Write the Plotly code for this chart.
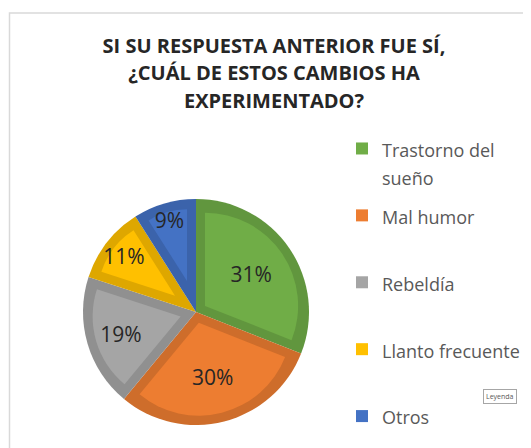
import math
import plotly.graph_objects as go

# ---- data ----
categories = ["Trastorno del sueño", "Mal humor", "Rebeldía", "Llanto frecuente", "Otros"]
legend_labels = ["Trastorno del<br>sueño", "Mal humor<br> ", "Rebeldía<br> ", "Llanto frecuente<br> ", "Otros<br> "]
values = [31, 30, 19, 11, 9]
title_lines = ["SI SU RESPUESTA ANTERIOR FUE SÍ,", "¿CUÁL DE ESTOS CAMBIOS HA", "EXPERIMENTADO?"]

# ---- style ----
light = ["#70AD47", "#ED7D31", "#A5A5A5", "#FFC000", "#4472C4"]
dark = ["#61963E", "#CE6D2B", "#909090", "#DEA700", "#3B63AB"]

W, H = 531, 448
CX, CY, R = 188, 304, 113   # pie centre / radius in px (figure coords)
B = 9                        # bevel band width in px

fig = go.Figure()

# base pie (dark rim colour)
fig.add_trace(go.Pie(
    labels=categories, values=values, sort=False, direction="clockwise", rotation=0,
    marker=dict(colors=dark, line=dict(width=0)),
    textinfo="none", hoverinfo="label+percent", showlegend=False,
    domain=dict(x=[(CX - R) / W, (CX + R) / W], y=[1 - (CY + R) / H, 1 - (CY - R) / H]),
))

# inner lighter sectors (bevel effect)
total = sum(values)
start = 0.0
for name, v, col in zip(categories, values, light):
    theta = v / total * 360.0
    mid = math.radians(start + theta / 2)
    d = B / math.sin(math.radians(theta / 2))
    r2 = R - B - d
    ax = CX + d * math.sin(mid)
    ay = CY - d * math.cos(mid)
    fig.add_trace(go.Pie(
        labels=[name, name + " "], values=[v, total - v], sort=False,
        direction="clockwise", rotation=start,
        marker=dict(colors=[col, "rgba(0,0,0,0)"], line=dict(width=0)),
        textinfo="none", hoverinfo="skip", showlegend=False,
        domain=dict(x=[(ax - r2) / W, (ax + r2) / W], y=[1 - (ay + r2) / H, 1 - (ay - r2) / H]),
    ))
    start += theta

# transparent top pie carrying the percentage labels
TR = R * 1.08
fig.add_trace(go.Pie(
    labels=categories, values=values, sort=False, direction="clockwise", rotation=0,
    marker=dict(colors=["rgba(0,0,0,0)"] * len(values), line=dict(width=0)),
    textinfo="percent", textposition="inside", insidetextorientation="horizontal",
    textfont=dict(family="Open Sans", size=21, color="#262626"),
    hoverinfo="skip", showlegend=False,
    domain=dict(x=[(CX - TR) / W, (CX + TR) / W], y=[1 - (CY + TR) / H, 1 - (CY - TR) / H]),
))

# legend entries
for i, (lab, col) in enumerate(zip(legend_labels, light)):
    name = "<br>".join(f"<span style='font-size:18px'>{p}</span>" for p in lab.split("<br>"))
    fig.add_trace(go.Scatter(
        x=[None], y=[None], mode="markers", name=name, legendgroup=str(i),
        marker=dict(symbol="square", size=12, color=col),
    ))

title_html = "<br>".join(f"<span style='font-size:20px'>{t}</span>" for t in title_lines)

fig.update_layout(
    width=W, height=H,
    margin=dict(l=0, r=0, t=0, b=0, autoexpand=False),
    paper_bgcolor="white", plot_bgcolor="white",
    xaxis=dict(visible=False), yaxis=dict(visible=False),
    title=dict(text=f"<b>{title_html}</b>", x=266 / W, xanchor="center",
               y=1 - 45 / H, yanchor="middle", yref="container",
               font=dict(family="Open Sans", size=21, color="#262626")),
    legend=dict(x=334 / W, xanchor="left", y=1 - 120 / H, yanchor="top",
                font=dict(family="Open Sans", size=21.5, color="#595959"),
                valign="top", traceorder="grouped", tracegroupgap=8,
                bgcolor="rgba(0,0,0,0)"),
    shapes=[dict(type="rect", xref="paper", yref="paper",
                 x0=1.5 / W, x1=1.1, y0=-0.1, y1=1 - 5 / H,
                 line=dict(color="#D9D9D9", width=1.5), layer="below")],
    annotations=[dict(text="Leyenda", xref="paper", yref="paper",
                      x=492 / W, y=1 - 388 / H, xanchor="center", yanchor="middle",
                      showarrow=False, font=dict(family="Open Sans", size=7, color="#595959"),
                      bordercolor="#A6A6A6", borderwidth=1, borderpad=2, bgcolor="white")],
)

fig.write_html("out.html")
